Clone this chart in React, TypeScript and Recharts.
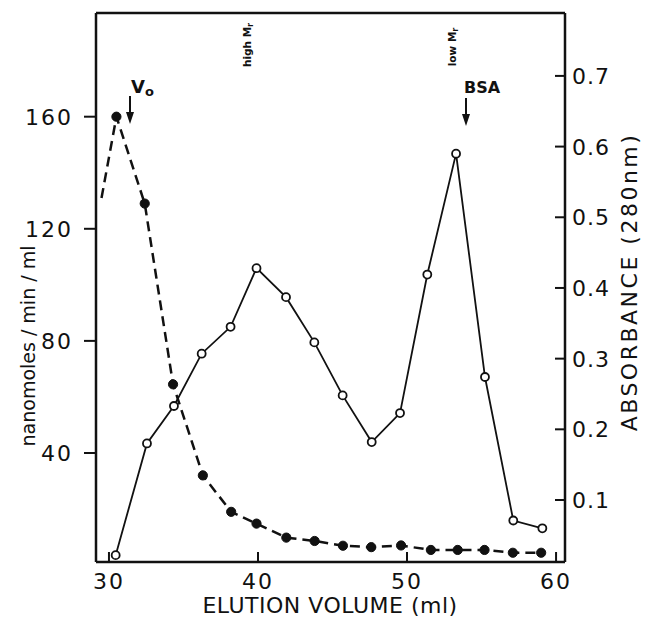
import React from "react";
import { ComposedChart, Line, XAxis, YAxis } from "recharts";

// Elution volume (ml) for activity fractions (first entry = start of the leading dashed segment, no marker)
const activityVolume = [29.5, 30.5, 32.4, 34.3, 36.3, 38.2, 39.9, 41.9, 43.8, 45.7, 47.6, 49.6, 51.6, 53.4, 55.2, 57.1, 59.0];
// nanomoles/min/ml
const activityValues = [131, 160, 129, 64.5, 32, 19, 14.8, 9.8, 8.6, 6.9, 6.4, 7.0, 5.4, 5.4, 5.4, 4.4, 4.4];

// Elution volume (ml) for absorbance fractions
const absorbanceVolume = [30.45, 32.55, 34.36, 36.22, 38.16, 39.9, 41.88, 43.78, 45.68, 47.63, 49.53, 51.36, 53.29, 55.23, 57.13, 59.08];
// Absorbance (280 nm)
const absorbanceValues = [0.022, 0.18, 0.233, 0.307, 0.345, 0.428, 0.387, 0.323, 0.248, 0.182, 0.223, 0.419, 0.59, 0.274, 0.071, 0.06];

const xTicks = [30, 40, 50, 60];
const leftTicks = [40, 80, 120, 160];
const rightTicks = [0.1, 0.2, 0.3, 0.4, 0.5, 0.6, 0.7];

const activityData = activityVolume.map((x, i) => ({ x, y: activityValues[i] }));
const absorbanceData = absorbanceVolume.map((x, i) => ({ x, y: absorbanceValues[i] }));

const W = 648;
const H = 622;
const PL = 96;
const PR = 565;
const PT = 13;
const PB = 562;
const YW = 60;
const XH = 40;
const TH = 5;
const FONT = "DejaVu Sans";
const INK = "#111";

const XTick = (props: any) => {
  const { x, payload } = props;
  return (
    <g>
      <line x1={x} x2={x} y1={PB} y2={PB - 10} stroke={INK} strokeWidth={2} />
      <text x={x} y={PB + 27} textAnchor="middle" fontFamily={FONT} fontSize={22} letterSpacing={2} fill={INK}>
        {payload.value}
      </text>
    </g>
  );
};

const LeftTick = (props: any) => {
  const { y, payload } = props;
  return (
    <g>
      <line x1={PL - 12} x2={PL} y1={y} y2={y} stroke={INK} strokeWidth={2} />
      <text x={PL - 23} y={y + 8} textAnchor="end" fontFamily={FONT} fontSize={22} letterSpacing={2} fill={INK}>
        {payload.value}
      </text>
    </g>
  );
};

const RightTick = (props: any) => {
  const { y, payload } = props;
  return (
    <g>
      <line x1={PR - 10} x2={PR} y1={y} y2={y} stroke={INK} strokeWidth={2} />
      <text x={PR + 7} y={y + 8} textAnchor="start" fontFamily={FONT} fontSize={22} letterSpacing={1} fill={INK}>
        {String(payload.value)}
      </text>
    </g>
  );
};

const FilledDot = (props: any) => {
  const { cx, cy, index } = props;
  if (index === 0) return <g key={`f${index}`} />;
  return <circle key={`f${index}`} cx={cx} cy={cy} r={4.6} fill={INK} stroke={INK} />;
};

const OpenDot = (props: any) => {
  const { cx, cy, index } = props;
  return <circle key={`o${index}`} cx={cx} cy={cy} r={4} fill="#fff" stroke={INK} strokeWidth={1.8} />;
};

export default function App() {
  return (
    <div style={{ position: "absolute", left: 0, top: 0, width: W, height: H, background: "#fff" }}>
      <ComposedChart
        width={W}
        height={H}
        margin={{ top: PT - TH, right: W - PR - YW, bottom: H - PB - XH, left: PL - YW }}
      >
        <XAxis
          xAxisId="main"
          type="number"
          dataKey="x"
          domain={[29.13, 60.6]}
          ticks={xTicks}
          allowDataOverflow
          height={XH}
          axisLine={{ stroke: INK, strokeWidth: 2.5 }}
          tickLine={false}
          tick={<XTick />}
        />
        <XAxis
          xAxisId="top"
          orientation="top"
          type="number"
          domain={[29.13, 60.6]}
          height={TH}
          axisLine={{ stroke: INK, strokeWidth: 2.5 }}
          tickLine={false}
          tick={false}
        />
        <YAxis
          yAxisId="left"
          type="number"
          domain={[1.1, 197]}
          ticks={leftTicks}
          allowDataOverflow
          width={YW}
          axisLine={{ stroke: INK, strokeWidth: 2.5 }}
          tickLine={false}
          tick={<LeftTick />}
        />
        <YAxis
          yAxisId="right"
          orientation="right"
          type="number"
          domain={[0.0123, 0.789]}
          ticks={rightTicks}
          allowDataOverflow
          width={YW}
          axisLine={{ stroke: INK, strokeWidth: 2.5 }}
          tickLine={false}
          tick={<RightTick />}
        />
        <Line
          xAxisId="main"
          yAxisId="right"
          data={absorbanceData}
          dataKey="y"
          type="linear"
          stroke={INK}
          strokeWidth={1.8}
          dot={<OpenDot />}
          isAnimationActive={false}
        />
        <Line
          xAxisId="main"
          yAxisId="left"
          data={activityData}
          dataKey="y"
          type="linear"
          stroke={INK}
          strokeWidth={2.5}
          strokeDasharray="10 6"
          dot={<FilledDot />}
          isAnimationActive={false}
        />
      </ComposedChart>
      <svg
        width={W}
        height={H}
        style={{ position: "absolute", left: 0, top: 0, pointerEvents: "none" }}
      >
        {/* axis titles */}
        <text
          transform={`translate(35, 346) rotate(-90)`}
          textAnchor="middle"
          fontFamily={FONT}
          fontSize={19}
          fill={INK}
        >
          nanomoles / min / ml
        </text>
        <text
          transform={`translate(637, 282) rotate(-90)`}
          textAnchor="middle"
          fontFamily={FONT}
          fontSize={22}
          letterSpacing={2.5}
          fill={INK}
        >
          ABSORBANCE (280nm)
        </text>
        <text x={330} y={613} textAnchor="middle" fontFamily={FONT} fontSize={22} letterSpacing={0.5} fill={INK}>
          ELUTION VOLUME (ml)
        </text>
        {/* V0 marker */}
        <text x={131} y={93} fontFamily={FONT} fontSize={18} fontWeight="bold" fill={INK}>
          V<tspan fontSize={13} dy={3}>o</tspan>
        </text>
        <line x1={130} x2={130} y1={96} y2={116} stroke={INK} strokeWidth={2} />
        <path d="M126,112 L134,112 L130,124 Z" fill={INK} />
        {/* BSA marker */}
        <text x={464} y={93} fontFamily={FONT} fontSize={16} fontWeight="bold" fill={INK}>
          BSA
        </text>
        <line x1={466} x2={466} y1={98} y2={118} stroke={INK} strokeWidth={2} />
        <path d="M462,114 L470,114 L466,126 Z" fill={INK} />
        {/* Mr labels */}
        <text
          transform={`translate(251, 45) rotate(-90)`}
          textAnchor="middle"
          fontFamily={FONT}
          fontSize={10.5}
          fontWeight="bold"
          fill={INK}
        >
          high M<tspan fontSize={8} dy={2}>r</tspan>
        </text>
        <text
          transform={`translate(456, 47) rotate(-90)`}
          textAnchor="middle"
          fontFamily={FONT}
          fontSize={10.5}
          fontWeight="bold"
          fill={INK}
        >
          low M<tspan fontSize={8} dy={2}>r</tspan>
        </text>
      </svg>
    </div>
  );
}
